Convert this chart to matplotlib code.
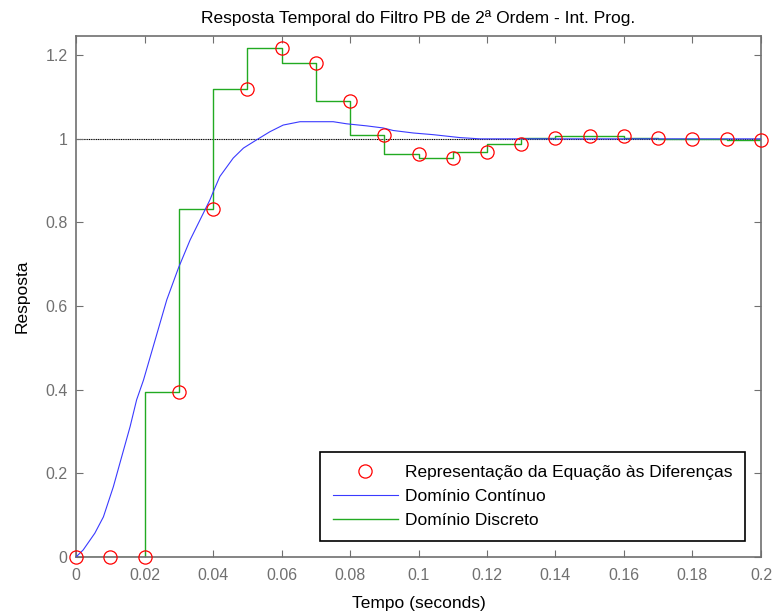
import matplotlib
matplotlib.use('Agg')
import matplotlib.pyplot as plt
from matplotlib.ticker import FuncFormatter

plt.rcParams['font.family'] = ['Liberation Sans', 'DejaVu Sans']

# discrete samples (T = 0.01 s)
t_disc = [0.00, 0.01, 0.02, 0.03, 0.04, 0.05, 0.06, 0.07, 0.08, 0.09, 0.10,
          0.11, 0.12, 0.13, 0.14, 0.15, 0.16, 0.17, 0.18, 0.19, 0.20]
y_disc = [0.000, 0.000, 0.000, 0.394, 0.833, 1.120, 1.217, 1.181, 1.090, 1.009, 0.964,
          0.954, 0.968, 0.988, 1.002, 1.007, 1.006, 1.002, 1.000, 1.000, 0.998]

# continuous response
t_cont = [0.0, 0.0021, 0.0055, 0.008, 0.0109, 0.0128, 0.0158, 0.0177, 0.0197,
          0.0231, 0.0265, 0.0299, 0.0333, 0.0362, 0.0391, 0.0401, 0.042, 0.0459,
          0.0489, 0.0528, 0.0566, 0.0605, 0.0654, 0.0751, 0.079, 0.0849, 0.0897,
          0.0926, 0.0985, 0.1043, 0.1121, 0.118, 0.15, 0.2]
y_cont = [0.0, 0.017, 0.057, 0.096, 0.168, 0.224, 0.312, 0.376, 0.423,
          0.519, 0.615, 0.691, 0.758, 0.806, 0.854, 0.874, 0.91, 0.954,
          0.978, 0.998, 1.017, 1.033, 1.041, 1.041, 1.036, 1.031, 1.026,
          1.02, 1.014, 1.01, 1.003, 1.0, 1.0, 1.0]

fig = plt.figure(figsize=(7.74, 6.14), dpi=100)
ax = fig.add_axes([0.0982, 0.0928, 0.885, 0.8486])

ax.plot(t_disc, y_disc, 'o', color='#ff0000', mfc='none', ms=9.5, mew=0.9,
        clip_on=False, zorder=4, label='Representação da Equação às Diferenças')
ax.plot(t_cont, y_cont, color='#3a3aff', lw=0.8, zorder=3, label='Domínio Contínuo')
ax.plot(t_disc, y_disc, color='#22aa22', lw=1.0, drawstyle='steps-pre', zorder=2,
        label='Domínio Discreto')
ax.axhline(1.0, color='black', lw=0.8, ls=(0, (1, 0.6)), zorder=1)

ax.set_xlim(0, 0.2)
ax.set_ylim(0, 1.246)
ax.set_xticks([0, 0.02, 0.04, 0.06, 0.08, 0.1, 0.12, 0.14, 0.16, 0.18, 0.2])
ax.set_yticks([0, 0.2, 0.4, 0.6, 0.8, 1.0, 1.2])
ax.xaxis.set_major_formatter(FuncFormatter(lambda v, p: '%g' % round(v, 3)))
ax.yaxis.set_major_formatter(FuncFormatter(lambda v, p: '%g' % round(v, 3)))

gray = '#707070'
for s in ax.spines.values():
    s.set_color(gray)
    s.set_linewidth(1.2)
ax.tick_params(direction='in', length=5, width=0.8, colors=gray, labelsize=11.5,
               top=True, right=True)
ax.tick_params(axis='x', pad=8)
ax.tick_params(axis='y', pad=6)

ax.set_title('Resposta Temporal do Filtro PB de 2ª Ordem - Int. Prog.', fontsize=12.5, pad=9)
ax.set_xlabel('Tempo (seconds)', fontsize=12.5, labelpad=9)
ax.set_ylabel('Resposta', fontsize=12.5, labelpad=11)

leg = ax.legend(loc='lower right', bbox_to_anchor=(0.977, 0.031), borderaxespad=0,
                fontsize=12.5, fancybox=False, framealpha=1, edgecolor='black',
                handlelength=3.75, labelspacing=0.5, borderpad=0.75, handletextpad=0.4)
leg.get_frame().set_linewidth(1.2)

fig.savefig('out.png', dpi=100)
